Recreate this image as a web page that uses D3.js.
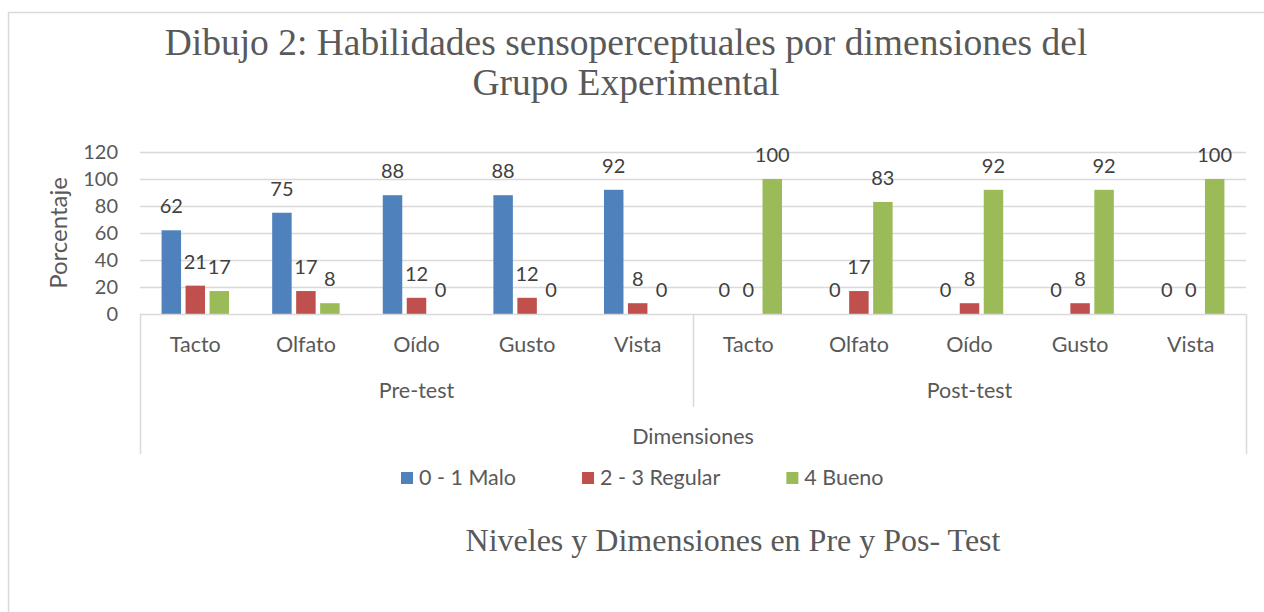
<!DOCTYPE html>
<html>
<head>
<meta charset="utf-8">
<script src="https://cdn.jsdelivr.net/npm/d3@7"></script>
<style>
  html, body { margin: 0; padding: 0; background: #fff; }
  svg { display: block; }
</style>
</head>
<body>
<svg id="chart" width="1264" height="612"></svg>
<script>
// ---- data ----
const phases = ["Pre-test", "Post-test"];
const dimensions = ["Tacto", "Olfato", "Oído", "Gusto", "Vista"];
const seriesNames = ["0 - 1 Malo", "2 - 3 Regular", "4 Bueno"];
const seriesColors = ["#4f81bd", "#c0504d", "#9bbb59"];
// values per phase, per dimension (in dimension order)
const preMalo     = [62, 75, 88, 88, 92];
const preRegular  = [21, 17, 12, 12, 8];
const preBueno    = [17, 8, 0, 0, 0];
const postMalo    = [0, 0, 0, 0, 0];
const postRegular = [0, 17, 8, 8, 0];
const postBueno   = [100, 83, 92, 92, 100];
const yTicks = [0, 20, 40, 60, 80, 100, 120];

const titleLines = ["Dibujo 2: Habilidades sensoperceptuales por dimensiones del", "Grupo Experimental"];
const yTitle = "Porcentaje";
const xTitle = "Dimensiones";
const caption = "Niveles y Dimensiones en Pre y Pos- Test";

// ---- build table ----
const seriesByPhase = {
  "Pre-test": [preMalo, preRegular, preBueno],
  "Post-test": [postMalo, postRegular, postBueno]
};
const cats = [];
phases.forEach(p => dimensions.forEach((d, i) => {
  cats.push({ key: p + "|" + d, phase: p, dim: d,
    values: seriesByPhase[p].map(arr => arr[i]) });
}));

// ---- layout ----
const svg = d3.select("#chart");
const pLeft = 140, pRight = 1246, pTop = 152, pBottom = 314;
const grey = "#d9d9d9";
const textCol = "#595959";
const labelCol = "#404040";
const sans = "Lato, 'Open Sans', sans-serif";
const serif = "'Liberation Serif', 'Times New Roman', serif";
const numSize = 20, txtSize = 21.5;

// outer border
svg.append("path").attr("d", `M8.5,612 V12.5 H1264`).attr("fill", "none").attr("stroke", grey).attr("stroke-width", 1.5);

const x0 = d3.scaleBand().domain(cats.map(c => c.key)).range([pLeft, pRight]).paddingInner(0).paddingOuter(0);
const x1 = d3.scaleBand().domain(seriesNames).range([0, x0.bandwidth()]).paddingInner(0.1875).paddingOuter(0.9);
const y = d3.scaleLinear().domain([0, 120]).range([pBottom, pTop]);

// gridlines
svg.append("g").selectAll("line").data(yTicks.filter(t => t > 0)).join("line")
  .attr("x1", pLeft).attr("x2", pRight)
  .attr("y1", d => y(d) + 0.5).attr("y2", d => y(d) + 0.5)
  .attr("stroke", grey).attr("stroke-width", 1.3);

// y axis tick labels
const yAxis = d3.axisLeft(y).tickValues(yTicks).tickSize(0).tickPadding(22);
const gy = svg.append("g").attr("transform", `translate(${pLeft},0)`).call(yAxis);
gy.select(".domain").remove();
gy.selectAll("text").attr("font-family", sans).attr("font-size", numSize).attr("fill", textCol);

// y title
svg.append("text").attr("transform", `translate(67,${(pTop + pBottom) / 2}) rotate(-90)`)
  .attr("text-anchor", "middle").attr("font-family", sans).attr("font-size", 24)
  .attr("fill", textCol).text(yTitle);

// bars
const gCats = svg.append("g").selectAll("g").data(cats).join("g")
  .attr("transform", d => `translate(${x0(d.key)},0)`);
gCats.selectAll("rect").data(d => d.values.map((v, i) => ({ v, s: seriesNames[i], i }))).join("rect")
  .attr("x", d => x1(d.s)).attr("width", x1.bandwidth())
  .attr("y", d => y(d.v)).attr("height", d => y(0) - y(d.v))
  .attr("fill", d => seriesColors[d.i]);
gCats.selectAll("text.val").data(d => d.values.map((v, i) => ({ v, s: seriesNames[i], i }))).join("text")
  .attr("class", "val")
  .attr("x", d => x1(d.s) + x1.bandwidth() / 2)
  .attr("y", d => y(d.v) - 17)
  .attr("text-anchor", "middle").attr("font-family", sans).attr("font-size", numSize)
  .attr("fill", labelCol).text(d => d.v);

// x axis lines
svg.append("line").attr("x1", pLeft).attr("x2", pRight).attr("y1", pBottom + 0.5).attr("y2", pBottom + 0.5)
  .attr("stroke", grey).attr("stroke-width", 1.5);
// outer vertical lines
[pLeft, pRight].forEach(xx => svg.append("line").attr("x1", xx + 0.5).attr("x2", xx + 0.5)
  .attr("y1", pBottom).attr("y2", 454).attr("stroke", grey).attr("stroke-width", 1.5));
// phase separators
phases.slice(1).forEach(p => {
  const xx = x0(p + "|" + dimensions[0]);
  svg.append("line").attr("x1", xx + 0.5).attr("x2", xx + 0.5)
    .attr("y1", pBottom).attr("y2", 407).attr("stroke", grey).attr("stroke-width", 1.5);
});

// category labels
svg.append("g").selectAll("text").data(cats).join("text")
  .attr("x", d => x0(d.key) + x0.bandwidth() / 2).attr("y", 352)
  .attr("text-anchor", "middle").attr("font-family", sans).attr("font-size", txtSize)
  .attr("fill", textCol).text(d => d.dim);

// phase labels
svg.append("g").selectAll("text").data(phases).join("text")
  .attr("x", p => {
    const a = x0(p + "|" + dimensions[0]);
    const b = x0(p + "|" + dimensions[dimensions.length - 1]) + x0.bandwidth();
    return (a + b) / 2;
  }).attr("y", 398)
  .attr("text-anchor", "middle").attr("font-family", sans).attr("font-size", txtSize)
  .attr("fill", textCol).text(p => p);

// x title
svg.append("text").attr("x", (pLeft + pRight) / 2).attr("y", 444)
  .attr("text-anchor", "middle").attr("font-family", sans).attr("font-size", txtSize)
  .attr("fill", textCol).text(xTitle);

// legend
let lx = 401;
seriesNames.forEach((s, i) => {
  svg.append("rect").attr("x", lx).attr("y", 472).attr("width", 12).attr("height", 12).attr("fill", seriesColors[i]);
  const t = svg.append("text").attr("x", lx + 18).attr("y", 485)
    .attr("font-family", sans).attr("font-size", txtSize).attr("fill", textCol).text(s);
  lx += 18 + t.node().getComputedTextLength() + 66;
});

// title
svg.append("g").selectAll("text").data(titleLines).join("text")
  .attr("x", 626).attr("y", (d, i) => 55 + i * 40)
  .attr("text-anchor", "middle").attr("font-family", serif).attr("font-size", 37.5)
  .attr("fill", textCol).text(d => d);

// caption
svg.append("text").attr("x", 733).attr("y", 551)
  .attr("text-anchor", "middle").attr("font-family", serif).attr("font-size", 32)
  .attr("fill", textCol).text(caption);
</script>
</body>
</html>
